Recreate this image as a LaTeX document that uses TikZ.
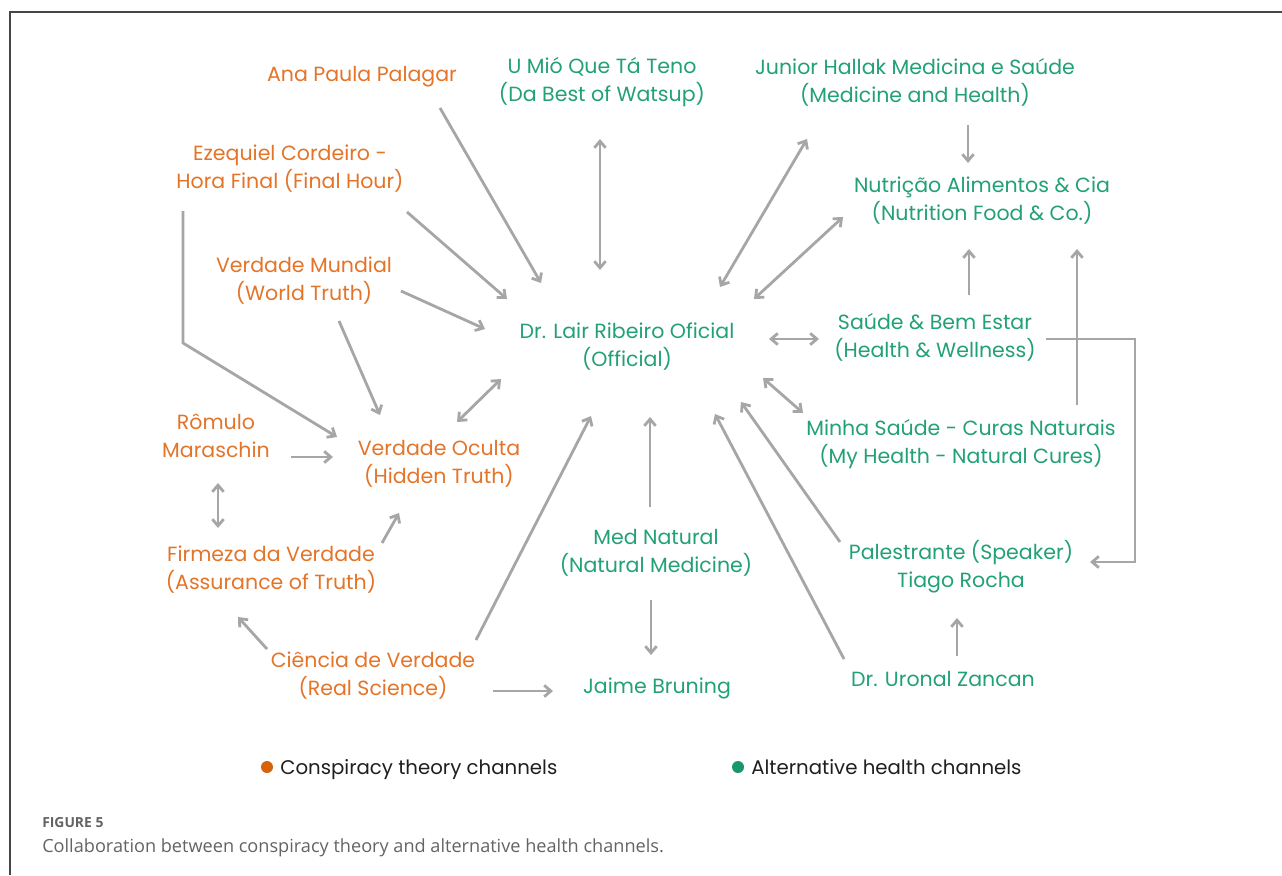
\documentclass[tikz,border=0pt]{standalone}
\usepackage{fontspec}
\setmainfont{Poppins}
\newfontfamily\capfont{Open Sans}
\usetikzlibrary{arrows.meta}
\definecolor{cons}{RGB}{228,116,40}
\definecolor{alth}{RGB}{34,160,120}
\definecolor{dotor}{RGB}{214,98,12}
\definecolor{dotgr}{RGB}{24,150,110}
\definecolor{edge}{RGB}{166,166,166}
\definecolor{framec}{RGB}{70,70,70}
\definecolor{captxt}{RGB}{100,100,100}
\begin{document}
\begin{tikzpicture}[x=0.75pt,y=-0.75pt,
  chan/.style={align=center,inner sep=0pt,font=\fontsize{15.4}{21}\selectfont},
  consp/.style={chan,text=cons},
  health/.style={chan,text=alth},
  barb/.tip={Straight Barb[length=5pt,width=8.5pt]},
  link/.style={draw=edge,line width=2.1pt,-barb},
  both/.style={draw=edge,line width=2.1pt,barb-barb},
  legdot/.style={circle,inner sep=0pt,minimum size=9pt},
  legtext/.style={anchor=base west,inner sep=0pt,text={black!88},font=\fontsize{14.8}{21}\selectfont},
]
\useasboundingbox (0,0) rectangle (1282,875);
\fill[white] (0,0) rectangle (1282,875);
\draw[framec,line width=1.1pt] (10,875) -- (10,12) -- (1282,12);

% conspiracy channels
\node[consp] (ana) at (362,77) {Ana Paula Palagar};
\node[consp] (eze) at (290,169) {Ezequiel Cordeiro -\\Hora Final (Final Hour)};
\node[consp] (mun) at (304,281) {Verdade Mundial\\(World Truth)};
\node[consp] (rom) at (216,436) {Rômulo\\Maraschin};
\node[consp] (ocu) at (439,464) {Verdade Oculta\\(Hidden Truth)};
\node[consp] (fir) at (271,570) {Firmeza da Verdade\\(Assurance of Truth)};
\node[consp] (cie) at (373,676) {Ciência de Verdade\\(Real Science)};

% alternative health channels
\node[health] (umi) at (602,82) {U Mió Que Tá Teno\\(Da Best of Watsup)};
\node[health] (jun) at (915,82) {Junior Hallak Medicina e Saúde\\(Medicine and Health)};
\node[health] (nut) at (982,201) {Nutrição Alimentos \& Cia\\(Nutrition Food \& Co.)};
\node[health] (lair) at (627,347) {Dr. Lair Ribeiro Oficial\\(Official)};
\node[health] (sau) at (935,337) {Saúde \& Bem Estar\\(Health \& Wellness)};
\node[health] (min) at (961,444) {Minha Saúde - Curas Naturais\\(My Health - Natural Cures)};
\node[health] (pal) at (961,567) {Palestrante (Speaker)\\Tiago Rocha};
\node[health] (med) at (656,553) {Med Natural\\(Natural Medicine)};
\node[health] (jai) at (657,688) {Jaime Bruning};
\node[health] (uro) at (943,679) {Dr. Uronal Zancan};

% connectors
\draw[link] ([shift={(78,31)}]ana.center) -- ([shift={(-86,-64)}]lair.center);
\draw[link] ([shift={(117,43)}]eze.center) -- ([shift={(-120,-48)}]lair.center);
\draw[link] ([shift={(97,10)}]mun.center) -- ([shift={(-142,-18)}]lair.center);
\draw[link] ([shift={(-107,42)}]eze.center) -- ++(0,132) -- ([shift={(-102,-27)}]ocu.center);
\draw[link] ([shift={(35,40)}]mun.center) -- ([shift={(-59,-49)}]ocu.center);
\draw[both] ([shift={(-126,32)}]lair.center) -- ([shift={(18,-42)}]ocu.center);
\draw[link] ([shift={(75,21)}]rom.center) -- ([shift={(-106,-7)}]ocu.center);
\draw[both] ([shift={(2,47)}]rom.center) -- ([shift={(-53,-42)}]fir.center);
\draw[link] ([shift={(111,-27)}]fir.center) -- ([shift={(-40,49)}]ocu.center);
\draw[link] ([shift={(-106,-27)}]cie.center) -- ([shift={(-33,47)}]fir.center);
\draw[link] ([shift={(103,-36)}]cie.center) -- ([shift={(-36,69)}]lair.center);
\draw[link] ([shift={(120,15)}]cie.center) -- ([shift={(-104,3)}]jai.center);
\draw[both] ([shift={(-2,57)}]umi.center) -- ([shift={(-27,-77)}]lair.center);
\draw[both] ([shift={(-108,57)}]jun.center) -- ([shift={(93,-60)}]lair.center);
\draw[both] ([shift={(-139,16)}]nut.center) -- ([shift={(127,-48)}]lair.center);
\draw[link] ([shift={(53,43)}]jun.center) -- ([shift={(-14,-38)}]nut.center);
\draw[link] ([shift={(34,-42)}]sau.center) -- ([shift={(-13,48)}]nut.center);
\draw[both] ([shift={(142,-8)}]lair.center) -- ([shift={(-116,2)}]sau.center);
\draw[link] ([shift={(116,-39)}]min.center) -- ([shift={(95,48)}]nut.center);
\draw[link] ([shift={(111,2)}]sau.center) -- ++(89,0) |- ([shift={(129,-5)}]pal.center);
\draw[both] ([shift={(136,31)}]lair.center) -- ([shift={(-158,-31)}]min.center);
\draw[link] ([shift={(-121,-25)}]pal.center) -- ([shift={(114,55)}]lair.center);
\draw[link] ([shift={(-99,-20)}]uro.center) -- ([shift={(88,67)}]lair.center);
\draw[link] ([shift={(-6,-46)}]med.center) -- ([shift={(23,70)}]lair.center);
\draw[link] ([shift={(-5,47)}]med.center) -- ([shift={(-6,-33)}]jai.center);
\draw[link] ([shift={(14,-23)}]uro.center) -- ([shift={(-4,51)}]pal.center);

% legend
\node[legdot,fill=dotor] (dot1) at (267,767) {};
\node[legtext] (leg1) at (280,774) {Conspiracy theory channels};
\node[legdot,fill=dotgr] (dot2) at (738,767) {};
\node[legtext] (leg2) at (751,774) {Alternative health channels};

% caption
\node[anchor=base west,inner sep=0pt,text=captxt,font=\capfont\fontsize{10.4}{12}\selectfont\bfseries] (fig) at (42,827) {FIGURE 5};
\node[anchor=base west,inner sep=0pt,text=captxt,font=\capfont\fontsize{13.6}{16}\selectfont] (cap) at (42,852) {Collaboration between conspiracy theory and alternative health channels.};
\end{tikzpicture}
\end{document}
